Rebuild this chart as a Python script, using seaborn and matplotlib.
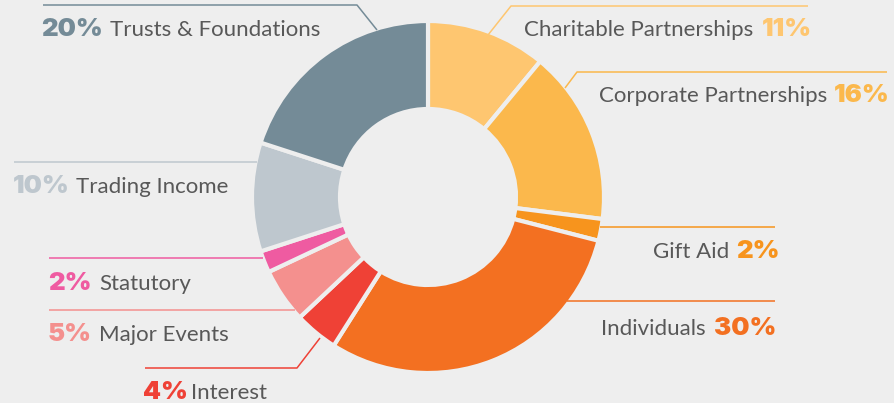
import matplotlib
matplotlib.use("Agg")
import matplotlib.pyplot as plt
import seaborn as sns

# data
labels = ["Charitable Partnerships", "Corporate Partnerships", "Gift Aid", "Individuals",
          "Interest", "Major Events", "Statutory", "Trading Income", "Trusts & Foundations"]
shares = [11, 16, 2, 30, 4, 5, 2, 10, 20]
colors = ["#fec670", "#fbb84c", "#f7941d", "#f37021", "#ef4136",
          "#f4908e", "#ef5ba1", "#bec7ce", "#748b97"]

BG = "#eeeeee"
TXT = "#585858"
W, H = 894, 403

sns.set_theme(style="white", rc={"axes.facecolor": BG, "figure.facecolor": BG})
plt.rcParams["font.family"] = ["Lato", "DejaVu Sans"]

fig = plt.figure(figsize=(W / 100, H / 100), dpi=100)
ax = fig.add_axes([0, 0, 1, 1])
ax.axis("off")

pal = sns.color_palette(colors)
ax.pie(shares, colors=pal, startangle=90, counterclock=False,
       center=(428, H - 197), radius=176,
       wedgeprops=dict(width=88, edgecolor=BG, linewidth=3))
ax.set_xlim(0, W)
ax.set_ylim(0, H)
ax.set_aspect("equal")

def fy(y):
    return H - y

# label layout: (pct x, label x, label align, baseline y, leader line points)
layout = {
    "Trusts & Foundations": (41, 110, "left", 36, [(43, 5), (357, 5), (377, 30)]),
    "Charitable Partnerships": (762, 753, "right", 36, [(808, 6), (511, 6), (488, 35)]),
    "Corporate Partnerships": (834, 827, "right", 102, [(887, 72), (577, 72), (565, 88)]),
    "Gift Aid": (736, 729, "right", 258, [(775, 227), (600, 227)]),
    "Individuals": (714, 706, "right", 335, [(775, 301), (567, 301)]),
    "Trading Income": (13, 76, "left", 193, [(14, 162), (257, 162)]),
    "Statutory": (48, 99, "left", 290, [(49, 258), (263, 258)]),
    "Major Events": (48, 99, "left", 341, [(49, 310), (295, 310)]),
    "Interest": (143, 191, "left", 399, [(145, 368), (297, 368), (320, 338)]),
}

for lab, val, col in zip(labels, shares, colors):
    px, lx, la, by, pts = layout[lab]
    xs = [p[0] for p in pts]
    ys = [fy(p[1]) for p in pts]
    ax.plot(xs, ys, color=col, lw=1.1, solid_capstyle="butt")
    ax.text(px, fy(by), f"{val}%", color=col, fontsize=18.5, fontweight="black",
            family=["Inter", "DejaVu Sans"], ha="left", va="baseline")
    ax.text(lx, fy(by), lab, color=TXT, fontsize=16, fontweight="normal",
            ha=la, va="baseline")

fig.savefig("out.png", dpi=100, facecolor=BG)
